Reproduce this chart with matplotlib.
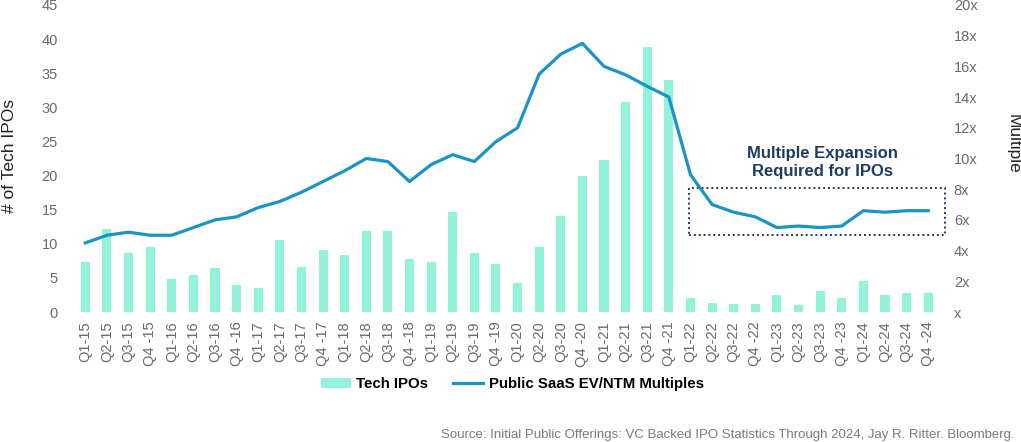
import numpy as np
import matplotlib
matplotlib.use("Agg")
import matplotlib.pyplot as plt
from matplotlib.patches import Rectangle

plt.rcParams['font.family'] = ['Liberation Sans', 'DejaVu Sans']

#---------------------------------------------------------------- data
years = ['15', '16', '17', '18', '19', '20', '21', '22', '23', '24']
quarters = []
for yy in years:
    quarters += ['Q1-' + yy, 'Q2-' + yy, 'Q3-' + yy, 'Q4 -' + yy]

tech_ipos = [7.4, 12.2, 8.7, 9.5,
             4.9, 5.4, 6.4, 3.9,
             3.5, 10.5, 6.6, 9.1,
             8.4, 11.8, 11.8, 7.7,
             7.3, 14.7, 8.7, 7.0,
             4.2, 9.6, 14.1, 19.9,
             22.3, 30.8, 38.9, 34.0,
             2.1, 1.3, 1.1, 1.1,
             2.5, 1.0, 3.1, 2.0,
             4.6, 2.5, 2.8, 2.8]

saas_multiple = [4.5, 5.0, 5.2, 5.0,
                 5.0, 5.5, 6.0, 6.2,
                 6.8, 7.2, 7.8, 8.5,
                 9.2, 10.0, 9.8, 8.5,
                 9.6, 10.25, 9.8, 11.1,
                 12.0, 15.5, 16.8, 17.5,
                 16.0, 15.45, 14.7, 14.0,
                 8.95, 7.0, 6.5, 6.2,
                 5.5, 5.6, 5.5, 5.6,
                 6.6, 6.5, 6.6, 6.6]

left_ticks = list(range(0, 50, 5))
right_ticks = list(range(0, 22, 2))
source_txt = "Source: Initial Public Offerings: VC Backed IPO Statistics Through 2024, Jay R. Ritter. Bloomberg."

bar_col = '#93F2DA'
line_col = '#1A93C6'
navy = '#1F3B60'
tick_col = '#6a6a6a'

#---------------------------------------------------------------- plot
fig = plt.figure(figsize=(10.21, 4.42), dpi=100)
ax = fig.add_axes([74.5 / 1021, 1 - 312 / 442, (945.5 - 74.5) / 1021, 307 / 442])
ax2 = ax.twinx()

x = np.arange(len(quarters))
ax.bar(x, tech_ipos, 0.42, color=bar_col, label='Tech IPOs')
ax2.plot(x, saas_multiple, color=line_col, lw=2.3, solid_joinstyle='round',
         label='Public SaaS EV/NTM Multiples')

ax.set_xlim(-0.5, 39.8)
ax.set_ylim(0, 45)
ax2.set_ylim(0, 20)
ax.set_yticks(left_ticks)
ax2.set_yticks(right_ticks)
ax2.set_yticklabels(['x' if v == 0 else f'{v}x' for v in right_ticks])
ax.set_xticks(x)
ax.set_xticklabels(quarters, rotation=90)

for a in (ax, ax2):
    for s in a.spines.values():
        s.set_visible(False)
ax.tick_params(axis='x', length=0, pad=7, labelsize=10.5, labelcolor=tick_col)
ax.tick_params(axis='y', length=0, pad=12, labelsize=10.5, labelcolor=tick_col)
ax2.tick_params(axis='y', length=0, pad=6, labelsize=10.5, labelcolor=tick_col)

fig.text(10 / 1021, 1 - 156 / 442, '# of Tech IPOs', rotation=90, ha='center', va='center',
         fontsize=12.5, color='#222222')
fig.text(1013 / 1021, 1 - 144 / 442, 'Multiple', rotation=270, ha='center', va='center',
         fontsize=12.5, color='#222222')

# callout box around the post-2022 multiples
i0 = quarters.index('Q1-22')
box = Rectangle((i0 - 0.06, 5.0), (len(quarters) - 1 + 0.77) - (i0 - 0.06), 3.1,
                fill=False, edgecolor=navy, linestyle=(0, (1, 1.5)), lw=1.4)
ax2.add_patch(box)
ax2.text(34.1, 9.75, 'Multiple Expansion\nRequired for IPOs', ha='center', va='center',
         fontsize=12, fontweight='bold', color=navy, linespacing=1.2)

h1, l1 = ax.get_legend_handles_labels()
h2, l2 = ax2.get_legend_handles_labels()
fig.legend(h1 + h2, l1 + l2, loc='center', bbox_to_anchor=(512 / 1021, 1 - 384 / 442),
           ncol=2, frameon=False, prop={'weight': 'bold', 'size': 10.8},
           handlelength=2.0, handletextpad=0.35, columnspacing=1.7)

fig.text(1015 / 1021, 1 - 435 / 442, source_txt, ha='right', va='center',
         fontsize=9.5, color='#7a7a7a')

plt.savefig('out.png', dpi=100)
